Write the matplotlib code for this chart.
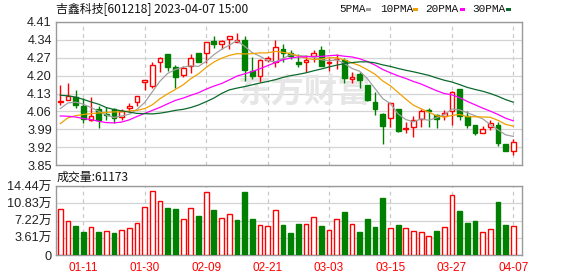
import numpy as np
import matplotlib
matplotlib.use("Agg")
import matplotlib.pyplot as plt
from matplotlib.patches import Rectangle

# ---------------- data ----------------
dates = ["01-06", "01-09", "01-10", "01-11", "01-12", "01-13", "01-16", "01-17", "01-18", "01-19",
         "01-20", "01-30", "01-31", "02-01", "02-02", "02-03", "02-06", "02-07", "02-08", "02-09",
         "02-10", "02-13", "02-14", "02-15", "02-16", "02-17", "02-20", "02-21", "02-22", "02-23",
         "02-24", "02-27", "02-28", "03-01", "03-02", "03-03", "03-06", "03-07", "03-08", "03-09",
         "03-10", "03-13", "03-14", "03-15", "03-16", "03-17", "03-20", "03-21", "03-22", "03-23",
         "03-24", "03-27", "03-28", "03-29", "03-30", "03-31", "04-03", "04-04", "04-06", "04-07"]

open_ = [4.096, 4.104, 4.117, 4.080, 4.026, 4.069, 4.051, 4.069, 4.038, 4.072,
         4.096, 4.174, 4.160, 4.254, 4.284, 4.235, 4.203, 4.237, 4.290, 4.287,
         4.336, 4.324, 4.345, 4.333, 4.341, 4.220, 4.198, 4.263, 4.255, 4.303,
         4.290, 4.252, 4.252, 4.275, 4.302, 4.250, 4.265, 4.263, 4.185, 4.205,
         4.164, 4.095, 4.051, 4.034, 4.069, 3.990, 3.998, 4.030, 4.066, 4.045,
         4.040, 4.060, 4.147, 4.043, 4.005, 3.977, 3.997, 4.005, 3.933, 3.905]
high = [4.164, 4.173, 4.144, 4.112, 4.116, 4.082, 4.076, 4.073, 4.069, 4.092,
        4.120, 4.184, 4.252, 4.272, 4.285, 4.240, 4.237, 4.285, 4.290, 4.333,
        4.356, 4.341, 4.356, 4.368, 4.354, 4.272, 4.265, 4.275, 4.341, 4.323,
        4.300, 4.285, 4.279, 4.302, 4.315, 4.270, 4.283, 4.270, 4.214, 4.215,
        4.165, 4.134, 4.055, 4.093, 4.070, 4.020, 4.040, 4.070, 4.075, 4.048,
        4.065, 4.138, 4.148, 4.063, 4.005, 4.004, 4.026, 4.018, 3.934, 3.952]
low = [4.086, 4.104, 4.073, 4.015, 4.024, 3.995, 4.025, 4.015, 4.028, 4.059,
       4.083, 4.144, 4.151, 4.215, 4.220, 4.150, 4.195, 4.210, 4.252, 4.250,
       4.310, 4.305, 4.305, 4.333, 4.180, 4.185, 4.175, 4.255, 4.233, 4.255,
       4.265, 4.235, 4.213, 4.252, 4.239, 4.219, 4.225, 4.173, 4.170, 4.150,
       4.100, 4.047, 3.933, 4.000, 3.980, 3.975, 3.958, 3.998, 4.000, 3.995,
       4.025, 4.008, 4.028, 3.995, 3.968, 3.977, 3.988, 3.924, 3.904, 3.890]
close = [4.100, 4.120, 4.085, 4.030, 4.042, 4.028, 4.045, 4.033, 4.060, 4.081,
         4.120, 4.182, 4.240, 4.270, 4.233, 4.195, 4.229, 4.270, 4.253, 4.332,
         4.324, 4.334, 4.354, 4.340, 4.222, 4.200, 4.263, 4.270, 4.313, 4.290,
         4.275, 4.244, 4.263, 4.290, 4.239, 4.252, 4.267, 4.190, 4.193, 4.183,
         4.103, 4.069, 4.002, 4.092, 3.982, 3.995, 4.026, 4.060, 4.062, 4.030,
         4.055, 4.137, 4.043, 4.008, 3.974, 3.992, 4.014, 3.935, 3.905, 3.940]

# volume in 万 (10^4 lots)
volume = [9.72, 7.18, 5.99, 4.72, 5.92, 4.86, 5.07, 4.51, 5.28, 5.70,
          6.76, 10.14, 13.31, 11.20, 9.79, 9.58, 7.61, 9.93, 8.10, 13.10,
          9.37, 7.75, 8.66, 7.26, 13.17, 7.47, 6.34, 6.13, 9.51, 6.20,
          4.60, 6.48, 6.48, 7.89, 6.05, 5.14, 7.46, 9.01, 6.41, 4.79,
          7.53, 5.84, 11.97, 5.56, 6.27, 5.56, 4.93, 4.72, 4.08, 5.00,
          5.77, 12.53, 9.22, 6.69, 7.11, 4.72, 5.35, 11.12, 6.27, 6.1173]

ma5 = [4.071, 4.093, 4.096, 4.088, 4.075, 4.061, 4.046, 4.036, 4.042, 4.049,
       4.068, 4.095, 4.137, 4.179, 4.209, 4.224, 4.233, 4.239, 4.236, 4.256,
       4.282, 4.303, 4.319, 4.337, 4.315, 4.290, 4.276, 4.259, 4.254, 4.267,
       4.282, 4.278, 4.277, 4.272, 4.262, 4.258, 4.262, 4.248, 4.228, 4.217,
       4.188, 4.149, 4.110, 4.090, 4.050, 4.028, 4.019, 4.031, 4.025, 4.035,
       4.047, 4.069, 4.066, 4.055, 4.043, 4.031, 4.008, 3.988, 3.968, 3.962]
ma10 = [4.012, 4.035, 4.043, 4.048, 4.051, 4.054, 4.056, 4.058, 4.058, 4.062,
        4.064, 4.071, 4.086, 4.110, 4.129, 4.146, 4.164, 4.188, 4.207, 4.232,
        4.253, 4.268, 4.279, 4.286, 4.285, 4.286, 4.289, 4.289, 4.295, 4.291,
        4.286, 4.277, 4.268, 4.263, 4.265, 4.270, 4.270, 4.262, 4.250, 4.239,
        4.223, 4.205, 4.179, 4.160, 4.134, 4.108, 4.084, 4.070, 4.057, 4.043,
        4.038, 4.044, 4.048, 4.039, 4.039, 4.038, 4.037, 4.025, 4.009, 4.002]
ma20 = [4.042, 4.041, 4.038, 4.032, 4.028, 4.021, 4.016, 4.015, 4.018, 4.027,
        4.040, 4.052, 4.064, 4.076, 4.090, 4.103, 4.112, 4.123, 4.133, 4.147,
        4.159, 4.169, 4.183, 4.198, 4.207, 4.216, 4.227, 4.239, 4.251, 4.262,
        4.269, 4.273, 4.274, 4.275, 4.275, 4.278, 4.280, 4.276, 4.273, 4.266,
        4.255, 4.241, 4.224, 4.211, 4.199, 4.189, 4.177, 4.167, 4.154, 4.141,
        4.130, 4.125, 4.114, 4.099, 4.086, 4.073, 4.061, 4.048, 4.033, 4.023]
ma30 = [4.123, 4.121, 4.116, 4.107, 4.097, 4.088, 4.075, 4.067, 4.062, 4.057,
        4.052, 4.051, 4.050, 4.053, 4.058, 4.064, 4.068, 4.075, 4.085, 4.098,
        4.112, 4.130, 4.144, 4.151, 4.157, 4.164, 4.171, 4.177, 4.184, 4.193,
        4.200, 4.205, 4.211, 4.219, 4.226, 4.234, 4.241, 4.247, 4.251, 4.254,
        4.254, 4.250, 4.242, 4.236, 4.228, 4.221, 4.215, 4.208, 4.201, 4.191,
        4.182, 4.175, 4.165, 4.154, 4.146, 4.139, 4.130, 4.119, 4.106, 4.096]

price_ticks = [3.85, 3.92, 3.99, 4.06, 4.13, 4.20, 4.27, 4.34, 4.41]
vol_ticks = [0, 3.61, 7.22, 10.83, 14.44]
vol_tick_labels = ["0", "3.61万", "7.22万", "10.83万", "14.44万"]
date_tick_labels = ["01-11", "01-30", "02-09", "02-21", "03-03", "03-15", "03-27", "04-07"]
ma_names = ["5PMA", "10PMA", "20PMA", "30PMA"]
title = "吉鑫科技[601218] 2023-04-07 15:00"

# ---------------- style ----------------
RED = "#ff0000"
GREEN = "#008000"
ma_colors = ["#a0a0a0", "#f0a000", "#ff00ff", "#0b6a2c"]
FRAME = "#9a9a9a"
GRID = "#d4d4d4"
VGRID = "#c8c8c8"

W, H = 578, 276
fig = plt.figure(figsize=(W / 100, H / 100), dpi=100)
fig.patch.set_facecolor("white")

L, R = 56, 522
ax = fig.add_axes([L / W, 1 - 165 / H, (R - L) / W, 143 / H])
axv = fig.add_axes([L / W, 1 - 255 / H, (R - L) / W, 69 / H])

o = np.array(open_)
c = np.array(close)
h = np.array(high)
lo = np.array(low)
v = np.array(volume)
x = np.arange(len(dates))
up = c >= o
cand_col = np.where(up, RED, GREEN)
prev = np.concatenate([[o[0]], c[:-1]])
vol_up = c >= prev
vol_col = np.where(vol_up, RED, GREEN)

xlim = (-0.556, len(dates) + 0.13)
tick_idx = [dates.index(d) for d in date_tick_labels]

# price panel
ax.vlines(x, lo, h, colors=cand_col, lw=1.0, zorder=3)
body_h = np.maximum(np.abs(c - o), 0.0012)
ax.bar(x, body_h, bottom=np.minimum(o, c), width=0.62,
       facecolor=np.where(up, "white", GREEN), edgecolor=cand_col,
       linewidth=1.0, zorder=4)
for ma, col in zip([ma5, ma10, ma20, ma30], ma_colors):
    ax.plot(x, ma, color=col, lw=0.9, zorder=5)

ax.set_xlim(*xlim)
ax.set_ylim(price_ticks[0], price_ticks[-1])
ax.set_yticks(price_ticks)
ax.set_yticklabels([f"{t:.2f}" for t in price_ticks], fontsize=9.2,
                   family="Liberation Sans", color="#222222")
ax.set_xticks(tick_idx)
ax.set_xticklabels([])
ax.tick_params(length=0, pad=3)
ax.grid(axis="y", color=GRID, lw=0.9, ls="-", zorder=0)
ax.grid(axis="x", color=VGRID, lw=0.9, ls=(0, (3, 3)), zorder=0)
ax.set_axisbelow(True)
for s in ax.spines.values():
    s.set_color(FRAME)
    s.set_linewidth(1.0)

# watermark
ax.text(0.532, 0.50, "东方财富", transform=ax.transAxes, ha="center", va="center",
        fontsize=24, color="#e6e6e6", fontweight="bold",
        family=["Noto Sans CJK SC"], zorder=1)

# volume panel
axv.bar(x, v, width=0.62, facecolor=np.where(vol_up, "white", GREEN),
        edgecolor=vol_col, linewidth=1.0, zorder=3)
axv.set_xlim(*xlim)
axv.set_ylim(vol_ticks[0], vol_ticks[-1])
axv.set_yticks(vol_ticks)
axv.set_yticklabels(vol_tick_labels, fontsize=9.2,
                    family=["Liberation Sans", "Noto Sans CJK SC"], color="#222222")
axv.set_xticks(tick_idx)
axv.set_xticklabels(date_tick_labels, fontsize=8.5, family="Liberation Sans", color=RED)
axv.tick_params(length=0, pad=3)
axv.tick_params(axis="x", pad=5)
axv.grid(axis="y", color=GRID, lw=0.9, ls="-", zorder=0)
axv.grid(axis="x", color=VGRID, lw=0.9, ls=(0, (3, 3)), zorder=0)
axv.set_axisbelow(True)
for s in axv.spines.values():
    s.set_color(FRAME)
    s.set_linewidth(1.0)

# header texts
fig.text(56 / W, 1 - 9 / H, title, ha="left", va="center", fontsize=8.6,
         family=["Noto Sans CJK SC", "DejaVu Sans"], color="#111111")
legend_x = [339, 380, 425, 472]
square_x = [366, 413, 460, 506]
for name, col, lx, sx in zip(ma_names, ma_colors, legend_x, square_x):
    fig.text(lx / W, 1 - 9 / H, name, ha="left", va="center", fontsize=8,
             family="Liberation Mono", color="#111111")
    fig.patches.append(Rectangle((sx / W, 1 - 11 / H), 5 / W, 3.5 / H,
                                 transform=fig.transFigure, facecolor=col,
                                 edgecolor="none"))

fig.text(57 / W, 1 - 177 / H, f"成交量:{int(round(volume[-1] * 10000))}",
         ha="left", va="center", fontsize=8.6,
         family=["Noto Sans CJK SC", "DejaVu Sans"], color="#111111")

fig.savefig("out.png", dpi=100, facecolor="white")
